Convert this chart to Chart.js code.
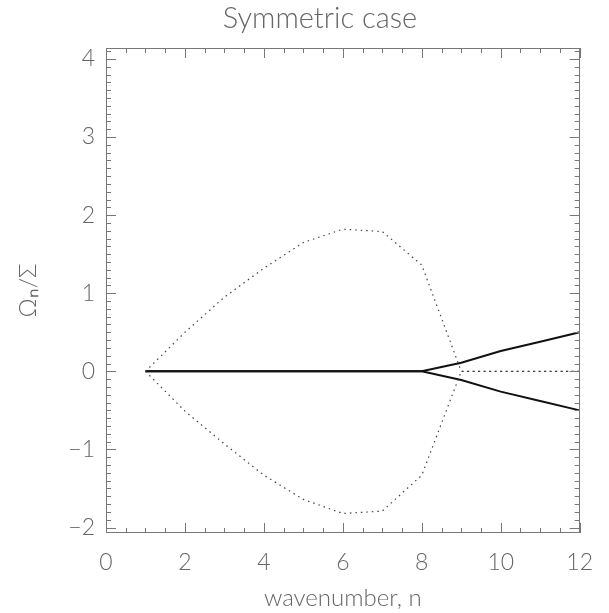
<!DOCTYPE html>
<html>
<head>
<meta charset="utf-8">
<script src="https://cdn.jsdelivr.net/npm/chart.js@4.4.1/dist/chart.umd.min.js"></script>
<style>
  html, body { margin: 0; padding: 0; background: #ffffff; }
  #wrap { width: 609px; height: 613px; }
</style>
</head>
<body>
<div id="wrap"><canvas id="c" width="609" height="613"></canvas></div>
<script>
// Wavenumbers and the two branches of the normalised eigenfrequency
const wavenumbers = [1, 2, 3, 4, 5, 6, 7, 8, 9, 10, 11, 12];
// Real part (solid): zero until the branches split past n = 8
const realUpper = [0, 0, 0, 0, 0, 0, 0, 0, 0.11, 0.26, 0.38, 0.50];
const realLower = [0, 0, 0, 0, 0, 0, 0, 0, -0.11, -0.26, -0.38, -0.50];
// Imaginary part (dotted)
const imagUpper = [0, 0.50, 0.95, 1.32, 1.65, 1.82, 1.79, 1.36, 0, 0, 0, 0];
const imagLower = [0, -0.51, -0.93, -1.33, -1.64, -1.82, -1.79, -1.33, 0, 0, 0, 0];

const xTickValues = [0, 2, 4, 6, 8, 10, 12];
const yTickValues = [-2, -1, 0, 1, 2, 3, 4];
const chartTitle = 'Symmetric case';

const toPoints = (ys) => wavenumbers.map((n, i) => ({ x: n, y: ys[i] }));

const TEXT = '#666666';
const FRAME = '#777777';
const FONT = 'Lato, "DejaVu Sans", sans-serif';

// Inward tick marks on all four sides of the plot frame, plus the heading
const frameTicks = {
  id: 'frameTicks',
  afterDraw(chart) {
    const { ctx, chartArea: a, scales: { x, y } } = chart;
    ctx.save();
    ctx.strokeStyle = FRAME;
    ctx.lineWidth = 1;
    ctx.strokeRect(Math.round(a.left) + 0.5, Math.round(a.top) + 0.5,
                   Math.round(a.right - a.left) - 1, Math.round(a.bottom - a.top) - 1);
    ctx.beginPath();
    for (let i = 0; i <= 24; i++) {
      const v = i / 2;
      const len = (i % 4 === 0) ? 10 : 5;
      const px = Math.round(x.getPixelForValue(v)) + 0.5;
      ctx.moveTo(px, a.bottom); ctx.lineTo(px, a.bottom - len);
      ctx.moveTo(px, a.top); ctx.lineTo(px, a.top + len);
    }
    for (let i = -20; i <= 41; i++) {
      const v = i / 10;
      const len = (i % 10 === 0) ? 10 : 5;
      const py = Math.round(y.getPixelForValue(v)) + 0.5;
      ctx.moveTo(a.left, py); ctx.lineTo(a.left + len, py);
      ctx.moveTo(a.right, py); ctx.lineTo(a.right - len, py);
    }
    ctx.stroke();

    ctx.fillStyle = TEXT;
    ctx.font = '300 29px ' + FONT;
    ctx.textAlign = 'center';
    ctx.textBaseline = 'middle';
    ctx.fillText(chartTitle, 320, 19);
    ctx.restore();
  }
};

Chart.defaults.font.family = FONT;
Chart.defaults.font.weight = 300;
Chart.defaults.color = TEXT;

const solid = { borderColor: '#111111', borderWidth: 2, pointRadius: 0, fill: false, tension: 0 };
const dotted = { borderColor: '#444444', borderWidth: 1.2, borderDash: [1.5, 4], pointRadius: 0, fill: false, tension: 0 };

new Chart(document.getElementById('c'), {
  type: 'line',
  data: {
    datasets: [
      Object.assign({ label: 'Im upper', data: toPoints(imagUpper) }, dotted),
      Object.assign({ label: 'Im lower', data: toPoints(imagLower) }, dotted),
      Object.assign({ label: 'Re upper', data: toPoints(realUpper) }, solid),
      Object.assign({ label: 'Re lower', data: toPoints(realLower) }, solid)
    ]
  },
  options: {
    responsive: false,
    animation: false,
    layout: { padding: { left: 0, right: 19, top: 48, bottom: 0 } },
    plugins: {
      legend: { display: false },
      tooltip: { enabled: false },
      title: { display: false }
    },
    scales: {
      x: {
        type: 'linear',
        min: 0, max: 12,
        afterBuildTicks: (s) => { s.ticks = xTickValues.map(v => ({ value: v })); },
        afterFit: (s) => { s.height = 80; },
        grid: { display: false, drawTicks: false },
        border: { display: false },
        ticks: { padding: 16, color: TEXT, font: { size: 23, weight: 300 }, maxRotation: 0 },
        title: { display: true, text: 'wavenumber, n', color: TEXT,
                 font: { size: 24, weight: 300, lineHeight: 1.2 }, padding: { top: 2, bottom: 0 } }
      },
      y: {
        type: 'linear',
        min: -2.07, max: 4.14,
        afterBuildTicks: (s) => { s.ticks = yTickValues.map(v => ({ value: v })); },
        afterFit: (s) => { s.width = 106; },
        grid: { display: false, drawTicks: false },
        border: { display: false },
        ticks: { padding: 11, color: TEXT, font: { size: 23, weight: 300 },
                 callback: (v) => (v < 0 ? '\u2212' + Math.abs(v) : String(v)) },
        title: { display: true, text: 'Ω\u2099/Σ', color: TEXT,
                 font: { size: 24, weight: 300, lineHeight: 1.2 }, padding: { top: 14, bottom: 0 } }
      }
    }
  },
  plugins: [frameTicks]
});
</script>
</body>
</html>
